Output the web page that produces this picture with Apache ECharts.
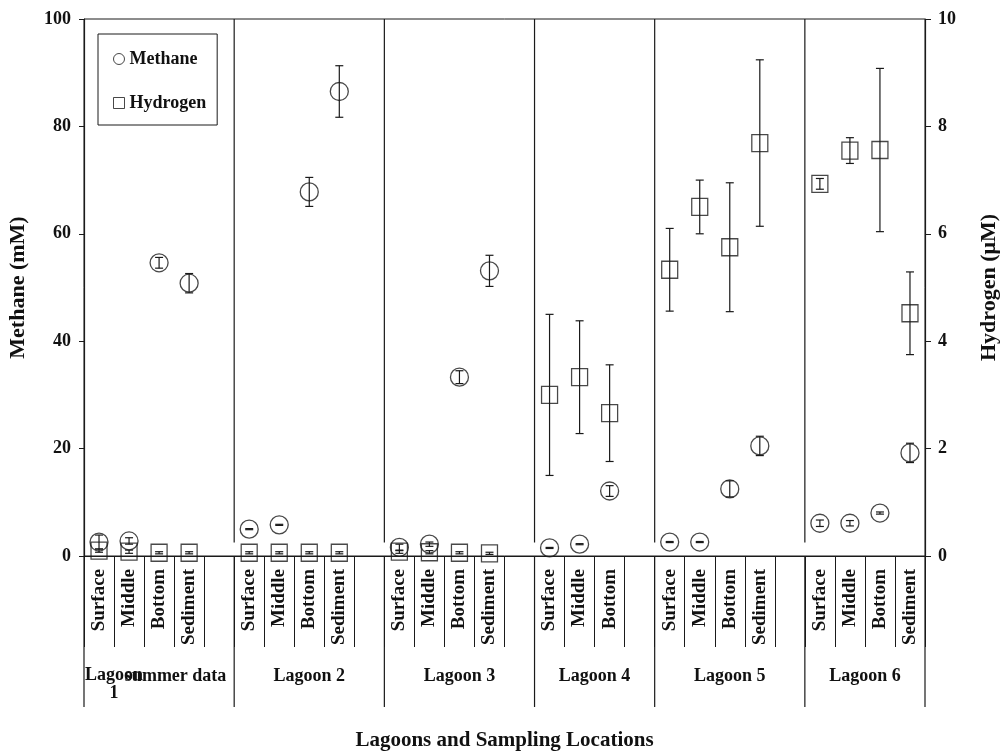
<!DOCTYPE html>
<html>
<head>
<meta charset="utf-8">
<script src="https://cdn.jsdelivr.net/npm/echarts@6/dist/echarts.min.js"></script>
<style>
html,body{margin:0;padding:0;background:#fff;overflow:hidden;}
#chart{width:1002px;height:754px;}
</style>
</head>
<body>
<div id="chart"></div>
<script>
// ---- data ----
var slotIds = ['L1S','L1M','L1B','L1D','L1x','L2S','L2M','L2B','L2D','L2x','L3S','L3M','L3B','L3D','L3x','L4S','L4M','L4B','L4x','L5S','L5M','L5B','L5D','L5x','L6S','L6M','L6B','L6D'];
var slotLabels = ['Surface','Middle','Bottom','Sediment','','Surface','Middle','Bottom','Sediment','','Surface','Middle','Bottom','Sediment','','Surface','Middle','Bottom','','Surface','Middle','Bottom','Sediment','','Surface','Middle','Bottom','Sediment'];
var methaneMean = [2.6,2.8,54.6,50.8,null, 5.0,5.8,67.8,86.5,null, 1.6,2.2,33.3,53.1,null, 1.5,2.2,12.1,null, 2.6,2.6,12.5,20.5,null, 6.1,6.1,8.0,19.2];
var methaneErr  = [1.3,0.6,1.0,1.8,null, 0.1,0.1,2.7,4.8,null, 0.6,0.4,1.2,2.9,null, 0.1,0.1,1.0,null, 0.1,0.1,1.5,1.8,null, 0.6,0.5,0.2,1.8];
var hydrogenMean = [0.10,0.08,0.06,0.06,null, 0.06,0.06,0.06,0.06,null, 0.08,0.07,0.06,0.05,null, 3.0,3.33,2.66,null, 5.33,6.5,5.75,7.69,null, 6.93,7.55,7.56,4.52];
var hydrogenErr  = [0.03,0.03,0.02,0.02,null, 0.02,0.02,0.02,0.02,null, 0.03,0.03,0.02,0.02,null, 1.5,1.05,0.9,null, 0.77,0.5,1.2,1.55,null, 0.1,0.24,1.52,0.77];
var groupNames = ['Lagoon\n1','Lagoon 2','Lagoon 3','Lagoon 4','Lagoon 5','Lagoon 6'];
var groupBounds = [0,5,10,15,19,24,28];
var methaneTicks = {min:0,max:100,interval:20};
var hydrogenTicks = {min:0,max:10,interval:2};

var FONT = '"Liberation Serif", "DejaVu Serif", serif';
var INK = '#1a1a1a';

function pts(mean){ var out=[]; mean.forEach(function(v,i){ if(v!==null) out.push([i,v]); }); return out; }
function errs(mean,err){ var out=[]; mean.forEach(function(v,i){ if(v!==null) out.push([i,v-err[i],v+err[i]]); }); return out; }

function errRender(params, api){
  var x = api.value(0);
  var lo = api.coord([x, api.value(1)]);
  var hi = api.coord([x, api.value(2)]);
  var cap = 4;
  var st = {stroke: INK, lineWidth: 1.2};
  return {type:'group', children:[
    {type:'line', shape:{x1:lo[0],y1:lo[1],x2:hi[0],y2:hi[1]}, style:st},
    {type:'line', shape:{x1:lo[0]-cap,y1:lo[1],x2:lo[0]+cap,y2:lo[1]}, style:st},
    {type:'line', shape:{x1:hi[0]-cap,y1:hi[1],x2:hi[0]+cap,y2:hi[1]}, style:st}
  ]};
}

var chart = echarts.init(document.getElementById('chart'), null, {renderer:'canvas', width:1002, height:754});

var option = {
  animation:false,
  backgroundColor:'#fff',
  grid:{left:84,width:841,top:19,height:537,outerBoundsMode:'none',containLabel:false,
        show:true,borderColor:INK,borderWidth:1,backgroundColor:'transparent'},
  legend:{
    left:98, top:34, orient:'vertical',
    backgroundColor:'#fff', borderColor:INK, borderWidth:1,
    padding:[16,11,13,15], itemGap:26, itemWidth:11, itemHeight:11,
    textStyle:{fontFamily:FONT,fontWeight:'bold',fontSize:18,color:'#111'},
    data:[
      {name:'Methane', icon:'circle', itemStyle:{color:'#fff',borderColor:INK,borderWidth:1}},
      {name:'Hydrogen', icon:'rect', itemStyle:{color:'#fff',borderColor:INK,borderWidth:1}}
    ]
  },
  xAxis:[{
    type:'category', data:slotIds, boundaryGap:true, position:'bottom',
    axisLine:{show:true,lineStyle:{color:INK,width:1.2}},
    axisTick:{show:true,interval:0,length:91,lineStyle:{color:INK,width:1}},
    axisLabel:{interval:0,rotate:90,margin:13,fontSize:19,fontFamily:FONT,fontWeight:'bold',color:'#111',
      formatter:function(v){ return slotLabels[slotIds.indexOf(v)]; }},
    splitLine:{show:false}
  },{
    type:'value', min:0, max:groupBounds[groupBounds.length-1], show:false
  }],
  yAxis:[{
    type:'value', position:'left', min:methaneTicks.min, max:methaneTicks.max, interval:methaneTicks.interval,
    name:'Methane (mM)', nameLocation:'middle', nameRotate:90, nameGap:55,
    nameTextStyle:{fontFamily:FONT,fontWeight:'bold',fontSize:22,color:'#111'},
    axisLine:{show:true,lineStyle:{color:INK,width:1.2}},
    axisTick:{show:true,length:5,lineStyle:{color:INK}},
    axisLabel:{margin:13,fontSize:18,fontFamily:FONT,fontWeight:'bold',color:'#111'},
    splitLine:{show:false}
  },{
    type:'value', position:'right', min:hydrogenTicks.min, max:hydrogenTicks.max, interval:hydrogenTicks.interval,
    name:'Hydrogen (\u03bcM)', nameLocation:'middle', nameRotate:90, nameGap:53,
    nameTextStyle:{fontFamily:FONT,fontWeight:'bold',fontSize:22,color:'#111'},
    axisLine:{show:true,lineStyle:{color:INK,width:1.2}},
    axisTick:{show:true,length:6,lineStyle:{color:INK}},
    axisLabel:{margin:13,fontSize:18,fontFamily:FONT,fontWeight:'bold',color:'#111'},
    splitLine:{show:false}
  }],
  series:[
    {name:'Methane', type:'scatter', xAxisIndex:0, yAxisIndex:0, data:pts(methaneMean),
     symbol:'circle', symbolSize:18, z:2,
     itemStyle:{color:'rgba(255,255,255,0)',borderColor:INK,borderWidth:1.3}},
    {name:'Hydrogen', type:'scatter', xAxisIndex:0, yAxisIndex:1, data:pts(hydrogenMean),
     symbol:'rect', symbolSize:[16,17], z:2,
     itemStyle:{color:'rgba(255,255,255,0)',borderColor:INK,borderWidth:1.3}},
    {name:'MethaneErr', type:'custom', xAxisIndex:0, yAxisIndex:0, data:errs(methaneMean,methaneErr),
     renderItem:errRender, z:3, encode:{x:0,y:[1,2]}},
    {name:'HydrogenErr', type:'custom', xAxisIndex:0, yAxisIndex:1, data:errs(hydrogenMean,hydrogenErr),
     renderItem:errRender, z:3, encode:{x:0,y:[1,2]}}
  ]
};
chart.setOption(option);

// separators, group labels and x-axis title, placed with the axes' own scales
function px(v){ return chart.convertToPixel({xAxisIndex:1}, v); }
function py(v){ return chart.convertToPixel({yAxisIndex:0}, v); }
var yTop = py(100), yZero = py(0), ySepEnd = py(2.5);
var yGroupLineEnd = yZero + 151, yGroupLabel = yZero + 120;
var g = [];
for (var k=0;k<groupBounds.length;k++){
  var x = px(groupBounds[k]);
  if (k>0 && k<groupBounds.length-1){
    g.push({type:'line', shape:{x1:x,y1:yTop,x2:x,y2:ySepEnd}, style:{stroke:INK,lineWidth:1.2}, z:1});
  }
  g.push({type:'line', shape:{x1:x,y1:yZero,x2:x,y2:yGroupLineEnd}, style:{stroke:INK,lineWidth:1.2}, z:1});
}
for (var k=0;k<groupNames.length;k++){
  var first = (k===0);
  var cx = first ? px(1) : px((groupBounds[k]+groupBounds[k+1])/2);
  g.push({type:'text', x:cx, y:first ? yGroupLabel-10 : yGroupLabel, style:{text:groupNames[k], align:'center', verticalAlign:first?'top':'middle',
    font:'bold 18px '+FONT, fill:'#111', lineHeight:18}, z:5});
}
g.push({type:'text', x:px(3.05), y:yGroupLabel, style:{text:'summer data', align:'center', verticalAlign:'middle',
  font:'bold 18px '+FONT, fill:'#111'}, z:5});
g.push({type:'text', x:(px(0)+px(28))/2, y:741, style:{text:'Lagoons and Sampling Locations', align:'center', verticalAlign:'middle',
  font:'bold 21px '+FONT, fill:'#111'}, z:5});
chart.setOption({graphic:g});
</script>
</body>
</html>
